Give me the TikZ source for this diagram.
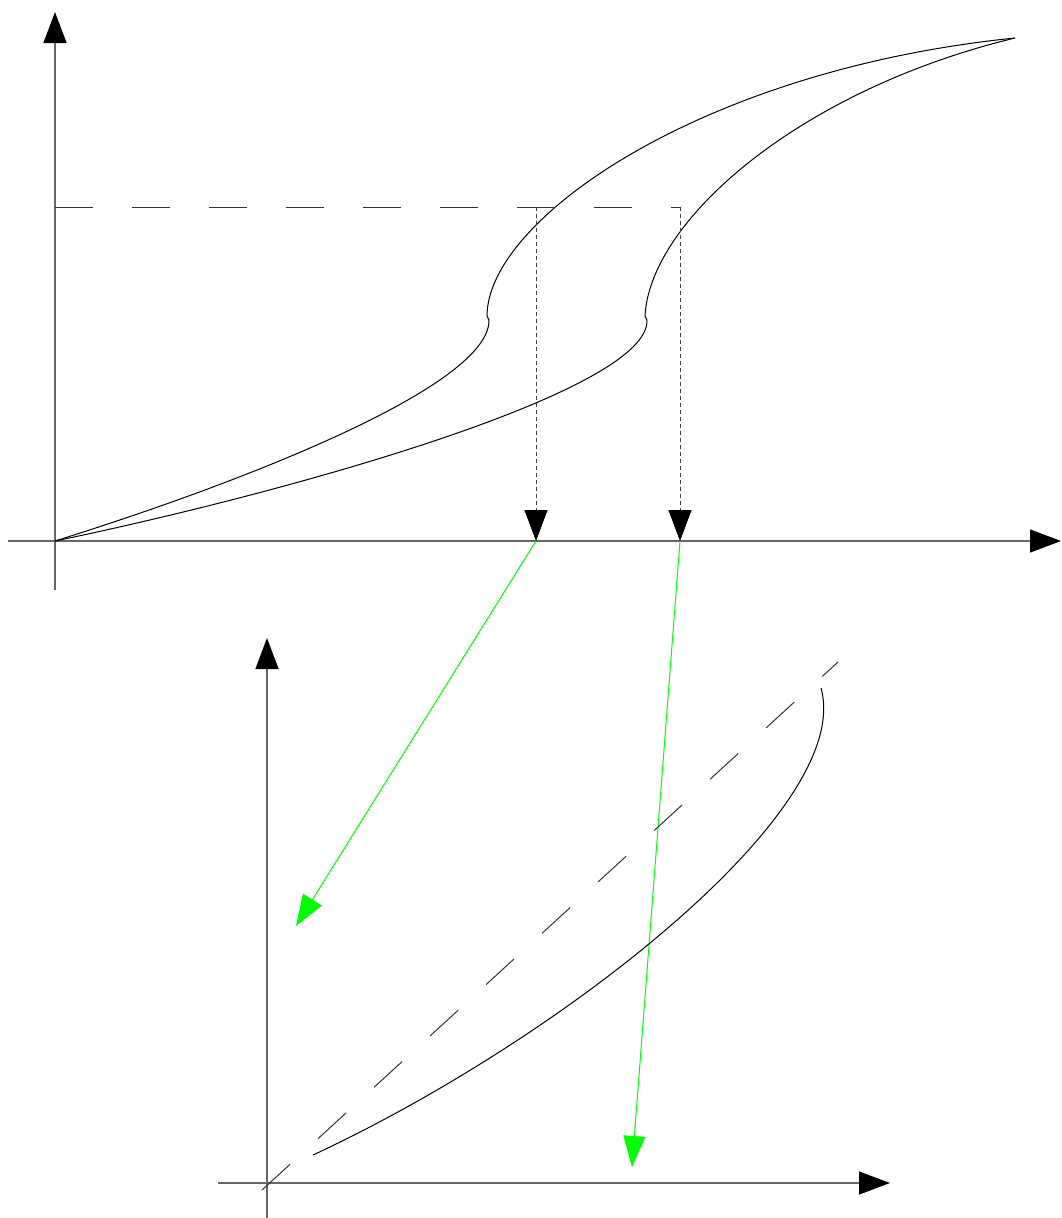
\documentclass[tikz,border=0pt]{standalone}
\usetikzlibrary{arrows.meta}
\tikzset{
  axis/.style={draw=black!60, line width=1.3pt, -{Triangle[length=31pt,width=23pt,fill=black,color=black]}},
  curve/.style={draw=black, line width=1pt},
  longdash/.style={draw=black!80, line width=1pt, dash pattern=on 38pt off 39pt},
  shortdash/.style={draw=black!75, line width=1pt, dash pattern=on 4pt off 3pt, -{Triangle[length=31pt,width=23pt,fill=black,color=black]}},
  greenarrow/.style={draw=green, line width=1pt, -{Triangle[length=31pt,width=22pt,fill=green]}}
}
\begin{document}
\begin{tikzpicture}[x=1pt,y=-1pt]
\useasboundingbox (0,0) rectangle (1061,1218);
% top axes
\coordinate (ty0) at (55,590);
\coordinate (ty1) at (55,12);
\coordinate (tx0) at (8,541);
\coordinate (tx1) at (1061,541);
\coordinate (O) at (55,541);
\draw[axis] (ty0) -- (ty1);
\draw[axis] (tx0) -- (tx1);
% hysteresis curves
\coordinate (top) at (1015,38);
\coordinate (cl1) at (487,316);
\coordinate (cl2) at (489,320);
\coordinate (cr1) at (645,316);
\coordinate (cr2) at (647,320);
\draw[curve] (O) .. controls (250,480) and (490,385) .. (cl2) -- (cl1) .. controls (487,220) and (700,70) .. (top);
\draw[curve] (O) .. controls (300,490) and (650,390) .. (cr2) -- (cr1) .. controls (650,220) and (800,90) .. (top);
% dashed level
\coordinate (h0) at (55,207);
\coordinate (h1) at (680,207);
\coordinate (a1) at (536,207);
\coordinate (b1) at (536,541);
\coordinate (a2) at (680,207);
\coordinate (b2) at (680,541);
\draw[longdash] (h0) -- (h1);
\draw[shortdash] (a1) -- (b1);
\draw[shortdash] (a2) -- (b2);
% green arrows
\coordinate (g1) at (296,926);
\coordinate (g2) at (632,1167);
\draw[greenarrow] (b1) -- (g1);
\draw[greenarrow] (b2) -- (g2);
% bottom axes
\coordinate (by0) at (267,1218);
\coordinate (by1) at (267,638);
\coordinate (bx0) at (218,1183);
\coordinate (bx1) at (890,1183);
\draw[axis] (by0) -- (by1);
\draw[axis] (bx0) -- (bx1);
% diagonal
\coordinate (d0) at (262,1190);
\coordinate (d1) at (838,662);
\draw[longdash, dash pattern=on 38pt off 38pt] (d0) -- (d1);
% bottom curve
\coordinate (c0) at (313,1155);
\coordinate (c1) at (821,688);
\draw[curve] (c0) .. controls (560,1040) and (855,810) .. (c1);
\end{tikzpicture}
\end{document}
